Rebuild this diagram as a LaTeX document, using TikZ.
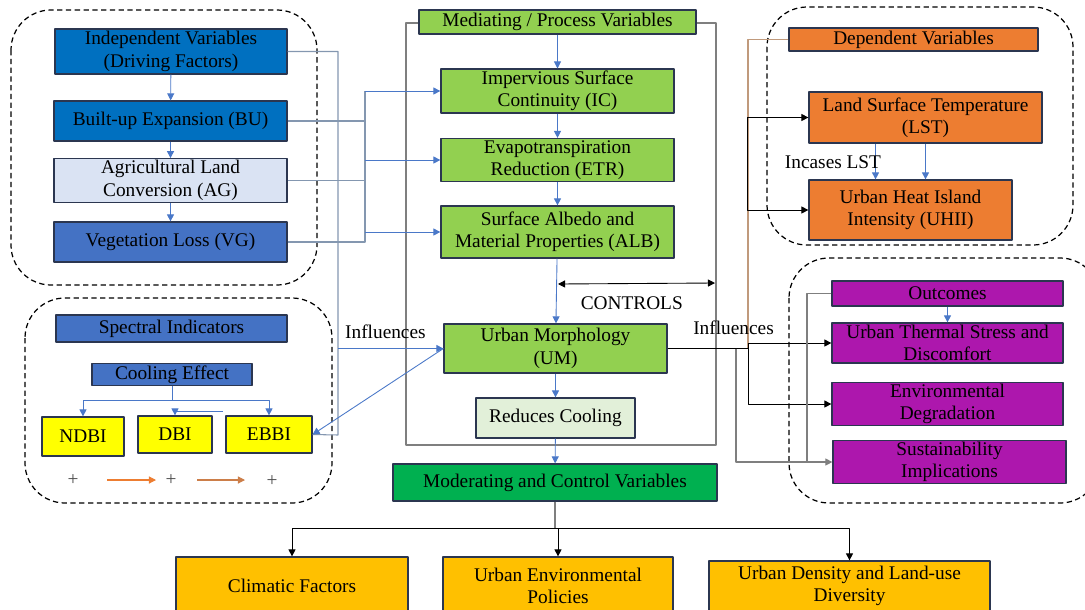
\documentclass[tikz,border=0pt]{standalone}
\usepackage{fontspec}
\setmainfont{Liberation Serif}
\usetikzlibrary{arrows.meta}
\definecolor{edge}{HTML}{2B3650}
\definecolor{dblue}{HTML}{0070C0}
\definecolor{mblue}{HTML}{4472C4}
\definecolor{lblue}{HTML}{DAE3F3}
\definecolor{lgreen}{HTML}{92D050}
\definecolor{pgreen}{HTML}{E2F0D9}
\definecolor{dgreen}{HTML}{00B050}
\definecolor{orng}{HTML}{ED7D31}
\definecolor{purp}{HTML}{AD17AD}
\definecolor{gold}{HTML}{FFC000}
\definecolor{yel}{HTML}{FFFF00}
\definecolor{arrblue}{HTML}{4A78C8}
\definecolor{linkblue}{HTML}{8497B0}
\definecolor{tan}{HTML}{C09A7C}
\definecolor{midgray}{HTML}{7F7F7F}
\begin{document}
\begin{tikzpicture}[x=0.02cm, y=-0.02cm, font=\fontsize{11}{12.8}\selectfont, line join=round, >={Triangle[length=4pt,width=4pt]},
	box/.style={draw=edge, line width=0.7pt, align=center, inner sep=1pt},
	sz/.style 2 args={minimum width=#1*0.02cm, minimum height=#2*0.02cm},
	grp/.style={dash pattern=on 3pt off 2pt, line width=0.7pt, rounded corners=0.8cm},
	barrow/.style={->, draw=arrblue, line width=0.5pt},
	lline/.style={draw=linkblue, line width=0.6pt},
	karrow/.style={->, draw=black, line width=0.5pt},
	garrow/.style={->, draw=midgray, line width=0.6pt},
	oarrow/.style={->, draw=orng, line width=0.6pt}]
	\useasboundingbox (0,0) rectangle (1085,609);
	\clip (0,0) rectangle (1085,609);
	% groups
	\draw[grp] (11,10) rectangle (317,285);
	\draw[grp] (25,298) rectangle (332,503);
	\draw[grp] (767,7) rectangle (1073,245);
	\draw[grp] (789,258) rectangle (1100,503);
	\draw[midgray, line width=0.6pt] (406,23) rectangle (716,445);
	% independent variables
	\node[box, fill=dblue, sz={232}{45}] (indep) at (171,51.5) {Independent Variables\\(Driving Factors)};
	\node[box, fill=dblue, sz={233}{40}] (bu) at (170.5,121) {Built-up Expansion (BU)};
	\node[box, fill=lblue, sz={233}{39}] (ag) at (170.5,180.5) {Agricultural Land\\Conversion (AG)};
	\node[box, fill=mblue, sz={233}{40}] (vg) at (170.5,242) {Vegetation Loss (VG)};
	% spectral indicators
	\node[box, fill=mblue, sz={231}{27}] (spec) at (171.5,328.5) {Spectral Indicators};
	\node[box, fill=mblue, sz={160}{19}] (cool) at (172,374.5) {Cooling Effect};
	\node[box, fill=yel, sz={82}{39}] (ndbi) at (83,436.5) {NDBI};
	\node[box, fill=yel, sz={74}{37}] (dbi) at (175,434.5) {DBI};
	\node[box, fill=yel, sz={86}{37}] (ebbi) at (269,434.5) {EBBI};
	\node[text=black!70] (p1) at (73,480) {+};
	\node[text=black!70] (p2) at (171,480) {+};
	\node[text=black!70] (p3) at (272,481) {+};
	% mediating variables
	\node[box, fill=lgreen, sz={277}{24}] (med) at (557.5,22) {Mediating / Process Variables};
	\node[box, fill=lgreen, sz={233}{40}] (ic) at (557.5,91) {Impervious Surface\\Continuity (IC)};
	\node[box, fill=lgreen, sz={233}{40}] (etr) at (557.5,160) {Evapotranspiration\\Reduction (ETR)};
	\node[box, fill=lgreen, sz={233}{52}] (alb) at (557.5,232) {Surface Albedo and\\Material Properties (ALB)};
	\node[box, fill=lgreen, sz={223}{49}] (um) at (555.5,348.5) {Urban Morphology\\(UM)};
	\node[box, fill=pgreen, sz={159}{40}] (red) at (555.5,418) {Reduces Cooling};
	\node[box, fill=dgreen, sz={324}{37}] (mod) at (555,482.5) {Moderating and Control Variables};
	\node[box, fill=gold, sz={232}{58}] (clim) at (292,586) {Climatic Factors};
	\node[box, fill=gold, sz={230}{58}] (uep) at (558,586) {Urban Environmental\\Policies};
	\node[box, fill=gold, sz={281}{50}] (udl) at (849.5,586) {Urban Density and Land-use\\Diversity};
	% dependent variables
	\node[box, fill=orng, sz={249}{23}] (dep) at (913.5,39.5) {Dependent Variables};
	\node[box, fill=orng, sz={233}{51}] (lst) at (925.5,117.5) {Land Surface Temperature\\(LST)};
	\node[box, fill=orng, sz={203}{60}] (uhii) at (910.5,210) {Urban Heat Island\\Intensity (UHII)};
	% outcomes
	\node[box, fill=purp, sz={231}{25}] (outc) at (947.5,293.5) {Outcomes};
	\node[box, fill=purp, sz={231}{40}] (uts) at (947.5,343) {Urban Thermal Stress and\\Discomfort};
	\node[box, fill=purp, sz={231}{40}] (env) at (947.5,404) {Environmental\\Degradation};
	\node[box, fill=purp, sz={233}{40}] (sus) at (949.5,462) {Sustainability\\Implications};
	% junctions
	\coordinate (jin) at (338,348.5);
	\coordinate (jic) at (365,91);
	\coordinate (jetr) at (365,160);
	\coordinate (jalb) at (365,232);
	\coordinate (jcool) at (172,400);
	\coordinate (jdbi) at (223,411);
	\coordinate (ctla) at (558,284);
	\coordinate (ctlb) at (715,283);
	\coordinate (jout) at (748,348.5);
	\coordinate (jsus) at (736,348.5);
	\coordinate (jdep) at (747,117.5);
	\coordinate (joc) at (807,462);
	\coordinate (jmod) at (555,528);
	% left connectors
	\draw[barrow] (indep) -- (bu);
	\draw[barrow] (bu) -- (ag);
	\draw[barrow] (ag) -- (vg);
	\draw[lline] (indep.east) -| (338,435) -- (ebbi.east);
	\draw[lline] (bu.east) -- (bu.east -| jic);
	\draw[lline] (ag.east) -- (ag.east -| jic);
	\draw[lline] (vg.east) -| (jic);
	\draw[barrow] (jic) -- (ic.west);
	\draw[barrow] (jetr) -- (etr.west);
	\draw[barrow] (jalb) -- (alb.west);
	\draw[barrow] (jin) -- (um.west) node[pos=0.45, above=2pt, black] {Influences};
	\draw[barrow] (um.west) -- (ebbi.east);
	\draw[barrow] (cool.south) -- (jcool) -| (ndbi.north);
	\draw[barrow] (jcool) -| (ebbi.north);
	\draw[barrow] (jdbi) -| (dbi.north);
	\draw[oarrow] (107,480) -- (156,480);
	\draw[oarrow, draw=orng!70!gray] (197,480) -- (245,480);
	% centre connectors
	\draw[barrow] (med) -- (ic);
	\draw[barrow] (ic) -- (etr);
	\draw[barrow] (etr) -- (alb);
	\draw[barrow] (alb) -- (um);
	\draw[barrow] (um) -- (red);
	\draw[barrow] (red) -- (mod);
	\draw[karrow, <->] (ctla) -- (ctlb) node[pos=0.47, below=4pt] {CONTROLS};
	\draw[midgray, line width=0.6pt] (mod.south) -- (jmod);
	\draw[karrow] (jmod) -| (clim.north);
	\draw[karrow] (jmod) -| (uep.north);
	\draw[karrow] (jmod) -| (udl.north);
	% right connectors
	\draw[draw=tan, line width=0.6pt] (dep.west) -| (jout);
	\draw[karrow] (jdep) -- (lst.west);
	\draw[karrow] (jdep) |- (uhii.west);
	\draw[barrow] ([xshift=-1cm]lst.south) -- ([xshift=-1cm]lst.south |- uhii.north);
	\draw[barrow] (lst.south) -- (lst.south |- uhii.north);
	\node (inc) at (833,162) {Incases LST};
	\draw[black, line width=0.5pt] (um.east) -- (jout) node[pos=0.82, above=4pt] {Influences};
	\draw[karrow] (jout) |- (uts.west);
	\draw[karrow] (jout) |- (env.west);
	\draw[garrow, draw=midgray] (jsus) |- (sus.west);
	\draw[midgray, line width=0.6pt] (outc.west) -| (joc);
	\draw[barrow] (outc) -- (uts);
\end{tikzpicture}
\end{document}
